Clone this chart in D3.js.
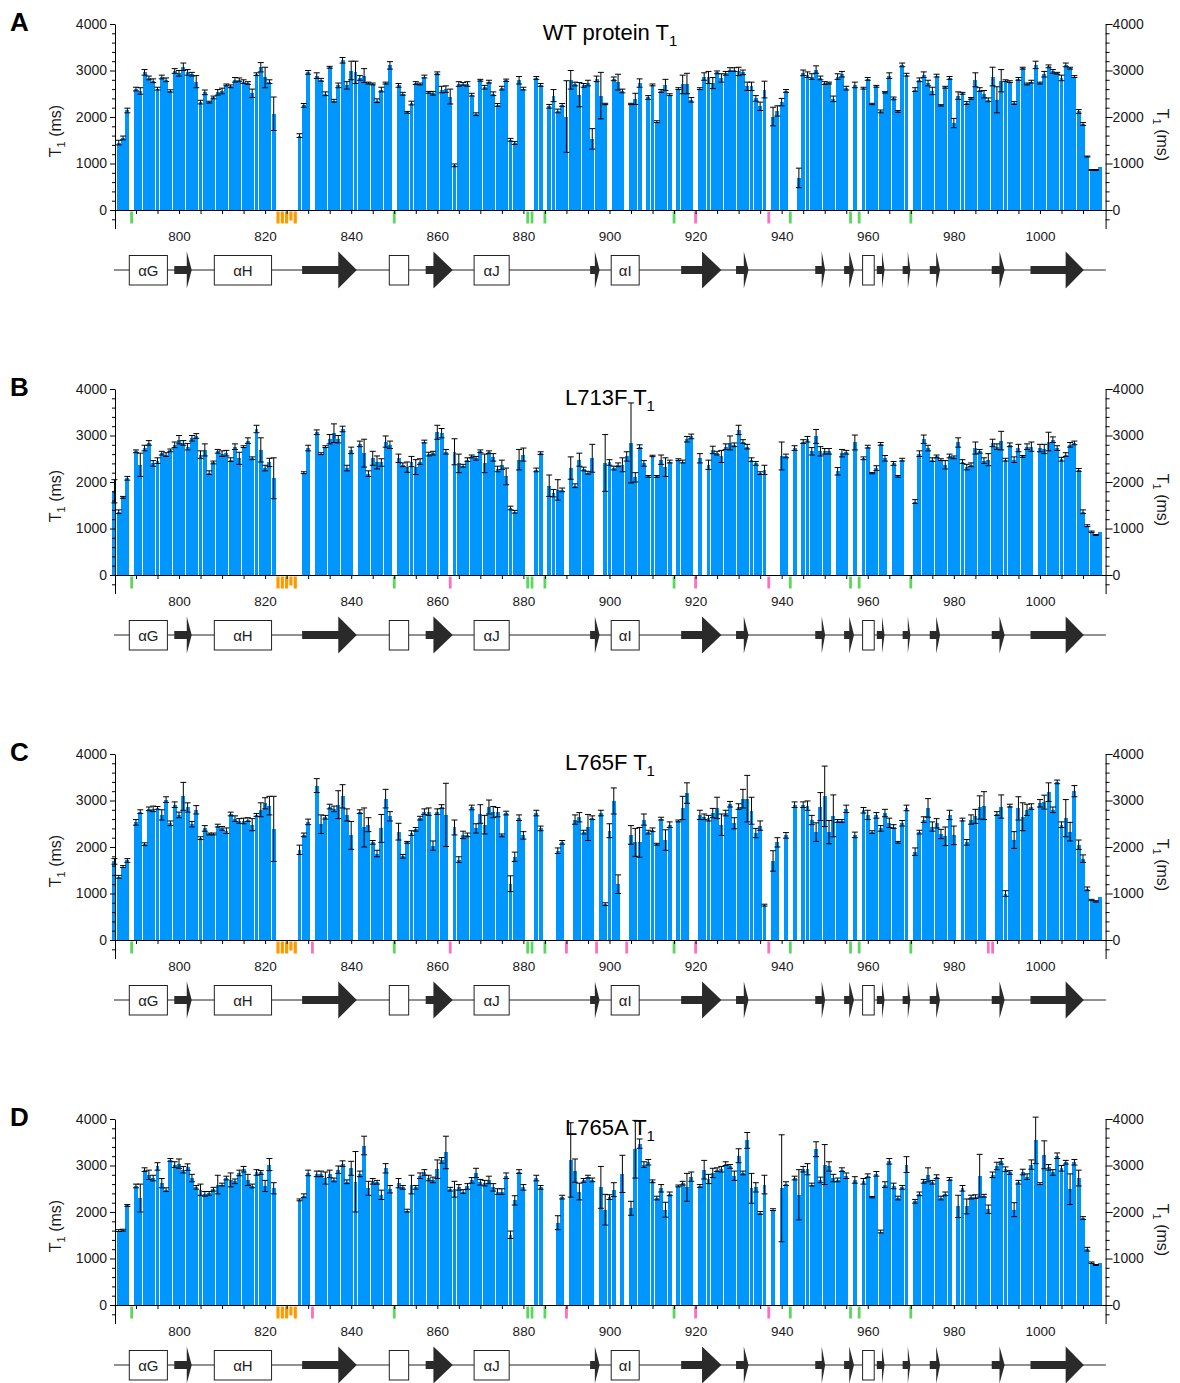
<!DOCTYPE html>
<html>
<head>
<meta charset="utf-8">
<script src="https://cdn.jsdelivr.net/npm/d3@7"></script>
<style>
  body { margin: 0; background: #fff; }
  svg { display: block; font-family: "Liberation Sans", Arial, sans-serif; }
</style>
</head>
<body>
<svg id="chart" width="1180" height="1383"></svg>
<script>
// Residue number of the first entry in every T1 series (one entry per residue, null = no data)
const firstResidue = 785;

// WT protein: T1 (ms) and its error
const wtT1 = [
  null,1450,1550,2140,null,2600,2560,2960,2840,2780,
  2610,2860,2800,2560,2990,2940,3080,2960,2920,2760,
  2320,2530,2320,2420,2530,2560,2690,2660,2800,2800,
  2760,2730,2510,2920,3070,2850,2760,2070,null,null,
  null,null,null,1600,2250,2960,null,2890,2800,2500,
  3070,2350,2680,3220,2680,3000,2960,2840,2890,2730,
  2710,2350,2590,2730,3110,null,2680,2500,2100,2300,
  2730,2710,2870,2530,2510,2940,2590,2600,2440,960,
  2710,2710,2710,2480,2060,2790,2640,2760,2500,2260,
  2620,2790,1510,1440,2790,2610,null,null,2840,2690,
  null,2230,2460,2130,2260,2010,2800,2710,2480,2680,
  2730,1530,2820,2460,2280,null,2820,2750,2560,null,
  2280,2390,2730,null,2420,2690,1900,2560,2690,2480,
  null,2610,2700,2720,2370,null,2610,2870,2850,2730,
  2960,2840,2940,3020,3020,2980,2960,2660,2660,2400,
  2230,2590,null,2010,2130,2320,2560,null,null,690,
  2950,2910,2870,3020,2840,2730,2730,2390,2870,2920,
  2620,null,2690,null,2620,2820,2280,2660,2120,2530,
  2890,2400,2120,3120,2910,null,2590,2800,2910,2730,
  2560,2890,2250,2640,2840,1870,2460,2510,2300,2400,
  2800,2590,2490,2370,2870,2370,2780,2780,2760,2300,
  2820,3050,2710,2760,3120,2730,2920,3090,2980,2940,
  2840,3120,3050,2870,2120,1850,1150,860,860,930
];
const wtErr = [
  0,50,40,50,0,40,70,60,40,40,
  30,40,40,25,50,60,80,60,40,130,
  40,50,20,30,60,60,20,30,50,40,
  40,30,90,30,100,220,40,360,0,0,
  0,0,0,40,40,40,0,60,30,40,
  20,30,50,60,80,200,240,50,150,20,
  20,40,50,20,80,0,40,30,20,40,
  30,20,30,20,40,30,70,70,160,30,
  50,30,50,30,30,20,40,30,40,30,
  40,25,30,30,80,30,0,0,30,30,
  0,40,130,40,30,770,200,40,260,40,
  60,220,60,500,15,0,40,170,40,0,
  15,120,90,0,40,20,20,30,120,20,
  0,20,200,220,50,0,20,80,130,120,
  30,90,40,40,40,90,50,90,90,60,
  90,180,0,200,110,80,30,0,0,210,
  60,60,60,80,40,30,20,60,60,60,
  40,0,60,0,20,30,15,20,30,15,
  60,30,20,40,30,0,40,40,60,60,
  80,30,15,20,30,100,80,20,30,20,
  150,40,80,40,200,280,240,20,20,30,
  30,20,20,30,80,20,60,30,40,20,
  60,40,20,20,40,30,10,10,10,0
];

// L713F mutant
const l713fT1 = [
  1800,1360,1670,2080,null,2660,2370,2730,2840,2400,
  2460,2620,2590,2680,2800,2910,2840,2760,2940,2990,
  2590,2690,2200,2420,2660,2610,2620,2480,2760,2510,
  2760,2890,2510,3140,2690,2300,2420,2080,null,null,
  null,null,null,null,2200,2730,null,3070,2610,2760,
  2920,3050,2920,3140,2300,2680,null,2820,2620,2180,
  2510,2420,2420,2870,2800,null,2510,2370,2320,2440,
  2320,2440,2870,2600,2620,3070,3050,2650,null,2650,
  2400,2350,2480,2550,2510,2660,2400,2640,2530,2280,
  2370,2120,1440,1360,2480,2590,null,null,2260,2620,
  null,1920,1760,1830,1830,null,2300,1920,2480,2280,
  2200,2510,null,null,2410,2420,2300,2370,2370,2550,
  2840,2100,2760,2400,2120,2560,2120,2480,2320,2440,
  null,2480,2440,2920,2980,null,2510,null,2370,2690,
  2620,2550,2760,2840,2800,3120,2870,2760,2480,2400,
  2190,2260,null,null,null,2560,2560,null,2730,null,
  2870,2920,2660,2980,2660,2660,2660,null,2230,2620,
  2640,null,2850,null,2510,2760,2190,2300,2820,2510,
  null,2400,2120,2480,null,null,1580,2610,2920,2730,
  2480,2550,2480,2370,2560,2530,2850,2440,2320,2370,
  2730,2660,2460,2480,2840,2760,2890,2480,2800,2480,
  2730,2550,2760,2760,null,2730,2710,2870,2910,2730,
  2490,2590,2800,2840,2260,1360,1060,930,860,930
];
const l713fErr = [
  250,40,20,40,0,30,250,60,50,60,
  60,40,40,30,60,90,50,70,60,50,
  80,130,40,30,40,60,60,40,60,130,
  20,60,30,80,260,60,90,440,0,0,
  0,0,0,0,20,60,0,50,20,20,
  100,200,80,60,60,70,0,60,300,60,
  150,140,80,120,80,0,90,40,110,110,
  160,60,30,40,40,150,100,50,0,280,
  200,30,40,30,40,30,200,30,80,60,
  100,180,40,30,220,140,0,0,40,30,
  0,230,80,220,40,0,240,40,140,40,
  30,300,0,0,610,60,40,40,150,100,
  860,100,40,60,20,15,20,100,200,30,
  0,20,30,60,50,0,100,0,100,80,
  40,130,60,150,40,100,40,50,40,40,
  30,100,0,0,0,300,40,0,50,0,
  40,60,80,150,100,60,60,0,80,80,
  40,0,160,0,30,30,15,50,30,60,
  0,40,20,30,0,0,40,60,90,60,
  40,30,20,90,40,30,100,40,60,40,
  130,40,60,130,80,60,200,30,40,60,
  80,20,60,100,0,80,100,200,60,50,
  40,40,50,40,30,40,20,15,10,0
];

// L765F mutant
const l765fT1 = [
  1690,1360,1580,1710,null,2530,2760,2060,2820,2820,
  2840,2690,3020,2510,2910,2690,3090,2850,2490,2800,
  2190,2400,2280,2280,2460,2400,2350,2710,2610,2560,
  2560,2590,2480,2690,2800,2940,2890,2390,null,null,
  null,null,null,1940,2260,2540,null,3320,2490,2640,
  2870,2820,2910,3090,2690,2250,null,2760,2420,2480,
  2100,1860,2400,3040,2660,null,2330,1800,2100,2300,
  2380,2620,2760,2760,2030,2760,2870,2690,null,2420,
  1730,2260,2260,2850,2400,2710,2480,2860,2750,2750,
  2250,2730,1210,1790,2630,2250,null,null,2730,2400,
  null,null,null,1920,2100,null,null,2590,2640,2320,
  2420,2630,null,2730,770,2350,2990,1200,null,null,
  2260,2100,2100,2590,2320,2370,2060,2610,2150,2480,
  null,2560,2840,3160,null,null,2690,2650,2620,2730,
  2840,2480,2730,2920,2510,2870,3040,3040,2780,2300,
  2460,750,null,1700,2100,null,2250,null,2910,null,
  2910,2890,2580,2320,2870,3090,2320,2670,2560,2560,
  2820,null,2260,null,2790,2690,2320,2680,2400,2730,
  2520,2440,2100,2510,2840,null,1900,2320,2590,2840,
  2440,2510,2280,2230,2690,2250,null,2590,2100,2590,
  2660,2850,2890,null,null,2720,2870,1000,2890,2150,
  2830,2650,2800,2870,null,2940,2965,3180,2800,3400,
  2480,2620,2330,3200,2050,1750,1100,860,830,920
];
const l765fErr = [
  60,30,20,40,0,60,40,30,40,60,
  30,110,60,50,60,60,300,100,60,90,
  30,60,20,20,30,40,60,40,60,50,
  60,40,130,30,150,120,200,700,0,0,
  0,0,0,100,40,60,0,150,200,40,
  50,60,300,250,130,300,0,40,420,150,
  40,70,300,200,100,0,180,40,20,50,
  40,40,60,80,100,60,40,680,0,160,
  60,80,40,50,100,200,200,150,120,100,
  30,40,170,100,60,80,0,0,60,50,
  0,0,0,60,40,0,0,100,100,40,
  280,40,0,60,30,150,280,200,0,0,
  200,300,320,120,40,40,20,30,220,60,
  0,20,250,220,0,0,100,60,60,100,
  230,230,60,60,120,60,200,500,290,100,
  100,20,0,220,100,0,60,0,60,0,
  60,100,100,200,300,650,250,450,30,30,
  80,0,60,0,60,100,30,60,60,80,
  100,40,20,60,60,0,80,40,60,200,
  100,100,100,200,100,200,0,30,60,100,
  150,250,300,0,0,40,250,60,30,180,
  250,300,120,60,0,80,150,200,60,40,
  60,400,200,120,100,80,40,15,15,0
];

// L765A mutant
const l765aT1 = [
  null,1600,1610,2140,null,2560,2300,2910,2800,2730,
  2980,2620,2480,3120,3020,3040,2910,2965,2730,2530,
  2480,2390,2400,2490,2590,2590,2730,2690,2660,2840,
  2920,2690,2560,2850,2850,2560,3020,2510,null,null,
  null,null,null,2260,2350,2840,null,2820,2820,2730,
  2820,2690,2910,3040,2650,2940,2650,2820,3430,2510,
  2660,2640,2370,2940,2490,null,2620,2530,2030,2590,
  2530,2780,2850,2730,2690,2920,3110,3280,2490,2490,
  2530,2440,2550,2680,2840,2640,2620,2690,2530,2440,
  2440,2780,1510,2250,2870,2530,null,null,2730,2530,
  null,null,null,1770,2320,null,3120,2890,2440,2680,
  2760,2690,null,2530,2050,2320,2480,null,2820,null,
  2080,3350,3470,3020,3070,2660,2300,2510,2050,2390,
  null,2560,2620,2530,2760,null,2560,2910,2710,2840,
  2910,2920,3040,2980,2780,3210,2840,3540,2510,2530,
  1980,2590,null,2050,null,2510,2610,null,2730,2370,
  2920,2920,2590,3350,2690,3020,2980,2730,2690,2910,
  2780,null,2690,null,2660,2780,2320,2820,1580,2590,
  3090,2560,2300,2530,3020,null,2230,2390,2660,2800,
  2640,2760,2300,2390,2710,null,2120,2510,2120,2320,
  2330,2780,2350,2060,2800,2990,3090,2920,2850,2050,
  2640,2860,2760,3020,3540,2610,3230,2960,2850,3210,
  2940,3070,2490,3070,2730,1870,1200,910,860,900
];
const l765aErr = [
  0,20,20,20,0,40,300,40,100,60,
  80,100,40,30,60,100,70,70,80,40,
  120,50,40,40,200,30,40,150,50,60,
  60,120,40,60,40,120,130,120,0,0,
  0,0,0,20,40,60,0,60,60,130,
  80,40,80,60,40,150,650,60,200,150,
  60,40,100,100,80,0,100,40,30,200,
  40,60,60,60,60,200,60,350,40,170,
  60,40,60,60,100,60,60,80,80,60,
  60,60,80,100,40,60,0,0,60,40,
  0,0,0,150,40,0,800,250,180,40,
  30,40,0,450,330,50,150,0,400,0,
  150,620,100,60,60,30,40,80,160,40,
  0,20,40,300,100,0,30,200,100,100,
  40,60,40,40,100,150,40,170,320,100,
  30,200,0,20,0,1150,40,0,40,540,
  60,120,30,160,60,430,100,80,40,40,
  60,0,70,0,60,40,15,50,30,60,
  60,60,40,40,170,0,40,40,40,150,
  40,40,40,40,30,0,240,60,160,40,
  40,460,30,90,60,80,60,50,40,150,
  40,60,60,100,500,20,300,60,60,60,
  60,40,330,60,170,30,40,15,10,0
];

// Residue flags drawn below the axis
const unassignedResidues = [789, 850, 881, 882, 885, 915, 942, 956, 958, 970];
const linkerResidues = [823, 824, 825, 826, 827];
const flaggedWT = [920, 937];
const flaggedL713F = [863, 920, 937];
const flaggedL765F = [831, 863, 890, 897, 904, 920, 937, 988, 989];
const flaggedL765A = [831, 890, 920, 937];

// Secondary structure (residue coordinates)
const helices = [
  { label: "αG", start: 788.45, end: 797.3 },
  { label: "αH", start: 808.2, end: 821.5 },
  { label: "", start: 848.85, end: 853.35 },
  { label: "αJ", start: 868.55, end: 876.7 },
  { label: "αI", start: 900.4, end: 906.9 },
  { label: "", start: 958.8, end: 961.5 }
];
// strands: [body start, head start, tip]
const strands = [
  [798.9, 801.8, 802.95], [828.6, 837.0, 841.3], [857.3, 859.1, 863.6],
  [895.5, 896.6, 897.7], [916.65, 921.5, 926.0], [929.4, 931.2, 932.3],
  [947.8, 949.3, 950.1], [954.5, 955.7, 956.8], [962.1, 963.3, 963.9],
  [968.1, 969.3, 969.9], [974.4, 975.9, 976.8], [988.8, 990.6, 991.8],
  [997.8, 1005.97, 1010.2]
];

const majorT1Ticks = [0, 1000, 2000, 3000, 4000];
const minorT1Ticks = [-200, 200, 400, 600, 800, 1200, 1400, 1600, 1800, 2200, 2400, 2600, 2800,
                      3200, 3400, 3600, 3800];

const panels = [
  { letter: "A", title: "WT protein T", values: wtT1, errors: wtErr, flagged: flaggedWT },
  { letter: "B", title: "L713F T", values: l713fT1, errors: l713fErr, flagged: flaggedL713F },
  { letter: "C", title: "L765F T", values: l765fT1, errors: l765fErr, flagged: flaggedL765F },
  { letter: "D", title: "L765A T", values: l765aT1, errors: l765aErr, flagged: flaggedL765A }
];

const svg = d3.select("#chart");
svg.append("rect").attr("width", 1180).attr("height", 1383).attr("fill", "#fff");

const x = d3.scaleLinear().domain([785.13, 1015.25]).range([115, 1105.6]);
const y = d3.scaleLinear().domain([-400, 4000]).range([228.6, 24]);
const panelStep = 365;
const barW = 3.9;
const capW = 6;
const barColor = "#0096ff";
const plain = d3.format("d");

function styleAxis(g, size) {
  g.attr("font-family", null).attr("font-size", null);
  g.selectAll("text").attr("font-size", size).attr("fill", "#1a1a1a");
  g.selectAll("line,path").attr("stroke", "#000");
}

panels.forEach((p, i) => {
  const g = svg.append("g").attr("transform", `translate(0,${i * panelStep})`);

  const rows = p.values
    .map((v, k) => ({ res: firstResidue + k, v: v, e: p.errors[k] }))
    .filter(d => d.v !== null);

  // bars
  g.append("g").selectAll("rect").data(rows).join("rect")
    .attr("x", d => x(d.res) - barW / 2)
    .attr("y", d => y(d.v))
    .attr("width", barW)
    .attr("height", d => y(0) - y(d.v))
    .attr("fill", barColor)
    .attr("shape-rendering", "crispEdges");

  // error bars
  const eb = g.append("g").attr("stroke", "#000").attr("stroke-width", 1);
  const withErr = rows.filter(d => d.e > 0);
  eb.selectAll("line.v").data(withErr).join("line").attr("class", "v")
    .attr("x1", d => x(d.res)).attr("x2", d => x(d.res))
    .attr("y1", d => y(d.v - d.e)).attr("y2", d => y(d.v + d.e));
  eb.selectAll("line.t").data(withErr).join("line").attr("class", "t")
    .attr("x1", d => x(d.res) - capW / 2).attr("x2", d => x(d.res) + capW / 2)
    .attr("y1", d => y(d.v + d.e)).attr("y2", d => y(d.v + d.e));
  eb.selectAll("line.b").data(withErr).join("line").attr("class", "b")
    .attr("x1", d => x(d.res) - capW / 2).attr("x2", d => x(d.res) + capW / 2)
    .attr("y1", d => y(d.v - d.e)).attr("y2", d => y(d.v - d.e));

  // residue flags under the axis
  const flagTop = y(0) + 1.5;
  const fl = g.append("g");
  fl.selectAll("rect.u").data(unassignedResidues).join("rect").attr("class", "u")
    .attr("x", r => x(r) - 1.4).attr("y", flagTop).attr("width", 2.8).attr("height", 12)
    .attr("fill", "#5cd65c");
  fl.selectAll("rect.l").data(linkerResidues).join("rect").attr("class", "l")
    .attr("x", r => x(r) - 1.6).attr("y", flagTop).attr("width", 3.2)
    .attr("height", r => r === 826 ? 9 : 12)
    .attr("fill", "#ff9900");
  fl.selectAll("rect.f").data(p.flagged).join("rect").attr("class", "f")
    .attr("x", r => x(r) - 1.4).attr("y", flagTop).attr("width", 2.8).attr("height", 12)
    .attr("fill", "#ff6ec0");

  // x axis on the zero line
  g.append("g").attr("transform", `translate(0,${y(0)})`)
    .call(d3.axisBottom(x).tickValues(d3.range(790, 1015, 5)).tickSize(4).tickSizeOuter(0)
      .tickPadding(17).tickFormat(d => d % 20 === 0 ? plain(d) : ""))
    .call(a => styleAxis(a, 13.5));

  // left axis
  g.append("g").attr("transform", "translate(115,0)")
    .call(d3.axisLeft(y).tickValues(majorT1Ticks).tickSize(5).tickSizeOuter(0).tickPadding(3)
      .tickFormat(plain))
    .call(a => styleAxis(a, 14));
  g.append("g").attr("transform", "translate(115,0)")
    .call(d3.axisLeft(y).tickValues(minorT1Ticks).tickSize(3).tickFormat(""))
    .call(a => { a.select(".domain").remove(); styleAxis(a, 14); });

  // right axis
  g.append("g").attr("transform", "translate(1105.6,0)")
    .call(d3.axisRight(y).tickValues(majorT1Ticks).tickSize(7).tickSizeOuter(0).tickPadding(0)
      .tickFormat(plain))
    .call(a => styleAxis(a, 14));
  g.append("g").attr("transform", "translate(1105.6,0)")
    .call(d3.axisRight(y).tickValues(minorT1Ticks).tickSize(4).tickFormat(""))
    .call(a => { a.select(".domain").remove(); styleAxis(a, 14); });

  // axis titles
  const lt = g.append("text").attr("transform", "translate(61,131) rotate(-90)")
    .attr("text-anchor", "middle").attr("font-size", 16).attr("fill", "#1a1a1a");
  lt.append("tspan").text("T");
  lt.append("tspan").attr("font-size", 11).attr("dy", 4).text("1");
  lt.append("tspan").attr("dy", -4).text(" (ms)");

  const rt = g.append("text").attr("transform", "translate(1157,135) rotate(90)")
    .attr("text-anchor", "middle").attr("font-size", 16).attr("fill", "#1a1a1a");
  rt.append("tspan").text("T");
  rt.append("tspan").attr("font-size", 11).attr("dy", 4).text("1");
  rt.append("tspan").attr("dy", -4).text(" (ms)");

  // panel title
  const tt = g.append("text").attr("x", 610).attr("y", 40).attr("text-anchor", "middle")
    .attr("font-size", 22).attr("fill", "#000");
  tt.append("tspan").text(p.title);
  tt.append("tspan").attr("font-size", 15).attr("dy", 6).text("1");

  // panel letter
  g.append("text").attr("x", 10).attr("y", 31).attr("font-size", 26)
    .attr("font-weight", "bold").attr("fill", "#000").text(p.letter);

  // secondary structure track
  const sy = 270;
  const ss = g.append("g");
  ss.append("line").attr("x1", x(784.9)).attr("x2", x(1015.3)).attr("y1", sy).attr("y2", sy)
    .attr("stroke", "#222").attr("stroke-width", 1);
  ss.selectAll("path.s").data(strands).join("path").attr("class", "s")
    .attr("d", s => {
      const b0 = x(s[0]), h0 = x(s[1]), tip = x(s[2]);
      return `M${b0},${sy - 4}H${h0}V${sy - 18.5}L${tip},${sy}L${h0},${sy + 18.5}V${sy + 4}H${b0}Z`;
    })
    .attr("fill", "#2a2a2a");
  ss.selectAll("rect.h").data(helices).join("rect").attr("class", "h")
    .attr("x", h => x(h.start)).attr("y", sy - 14.5)
    .attr("width", h => x(h.end) - x(h.start)).attr("height", 29.5)
    .attr("fill", "#fff").attr("stroke", "#222").attr("stroke-width", 1);
  ss.selectAll("text.h").data(helices.filter(h => h.label)).join("text").attr("class", "h")
    .attr("x", h => x((h.start + h.end) / 2)).attr("y", sy + 5.5)
    .attr("text-anchor", "middle").attr("font-size", 15).attr("fill", "#222")
    .text(h => h.label);
});
</script>
</body>
</html>
